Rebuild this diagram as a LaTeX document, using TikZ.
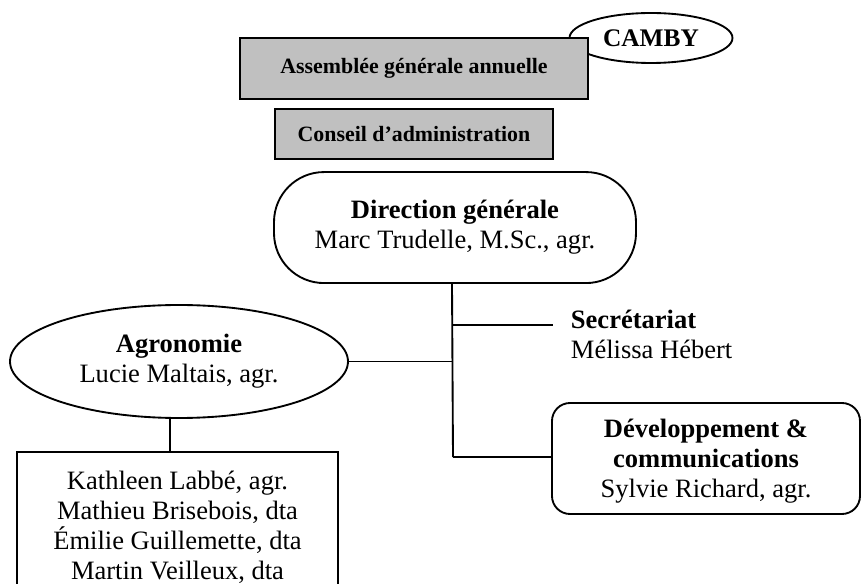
\documentclass[tikz,border=0pt]{standalone}
\usepackage{fontspec}
\setmainfont{Liberation Serif}
\usetikzlibrary{positioning,shapes.geometric}
\definecolor{Shade}{HTML}{C0C0C0}

\begin{document}
\begin{tikzpicture}[
    x=0.75pt, y=-0.75pt, line width=1.4pt,
    every node/.style={font=\fontsize{19.9pt}{22.5pt}\selectfont, align=center},
    greybox/.style={draw, fill=Shade, font=\fontsize{16.4pt}{19pt}\selectfont\bfseries},
    pill/.style={draw, fill=white, rounded corners=37.5pt},
    oval/.style={draw, fill=white, ellipse, inner sep=0pt},
    softbox/.style={draw, fill=white, rounded corners=13.5pt},
    plainbox/.style={draw, fill=white},
    link/.style={draw, line width=1.4pt}
  ]
    \useasboundingbox (0,0) rectangle (861,584);
    \clip (0,0) rectangle (861,584);
    \node[oval, minimum width=122.25pt, minimum height=37.5pt, font=\fontsize{19pt}{22pt}\selectfont\bfseries] (camby) at (651,38) {CAMBY};
    \node[greybox, minimum width=261pt, minimum height=45.75pt] (assembly) at (414,68.5) {Assemblée générale annuelle};
    \node[greybox, below=6pt of assembly, minimum width=208.5pt, minimum height=37.5pt] (board) {Conseil d’administration};
    \node[pill, below=8.5pt of board, xshift=30.75pt, minimum width=271.5pt, minimum height=83.25pt] (direction) {\textbf{Direction générale}\\Marc Trudelle, M.Sc., agr.};
    \node[anchor=west, align=left, inner xsep=12.75pt, inner ysep=0pt] (secr) at (553,334) {\textbf{Secrétariat}\\Mélissa Hébert};
    \node[oval, minimum width=253.5pt, minimum height=84.75pt] (agro) at (179,361.5) {\textbf{Agronomie}\\Lucie Maltais, agr.};
    \node[softbox, minimum width=231pt, minimum height=83.25pt] (dev) at (706,458.5) {\rule{0pt}{18.5pt}\textbf{Développement \&}\\\textbf{communications}\\Sylvie Richard, agr.};
    \node[plainbox, anchor=north, minimum width=240.75pt, inner ysep=14.5pt] (staff) at (177.5,451) {Kathleen Labbé, agr.\\Mathieu Brisebois, dta\\Émilie Guillemette, dta\\Martin Veilleux, dta};

    \coordinate (spine) at ([xshift=-2.25pt]direction.south);
    \coordinate (secjoin) at (453,325);
    \coordinate (spineend) at (453,457);
    \draw[link] (spine) -- (spineend);
    \draw[link] (secjoin) -- (secjoin -| secr.west);
    \draw[link] (agro.east) -- (agro.east -| spine);
    \draw[link] (spineend) -- (spineend -| dev.west);
    \draw[link] ([xshift=-7pt]agro.south) -- ([xshift=-7pt]agro.south |- staff.north);
\end{tikzpicture}
\end{document}
